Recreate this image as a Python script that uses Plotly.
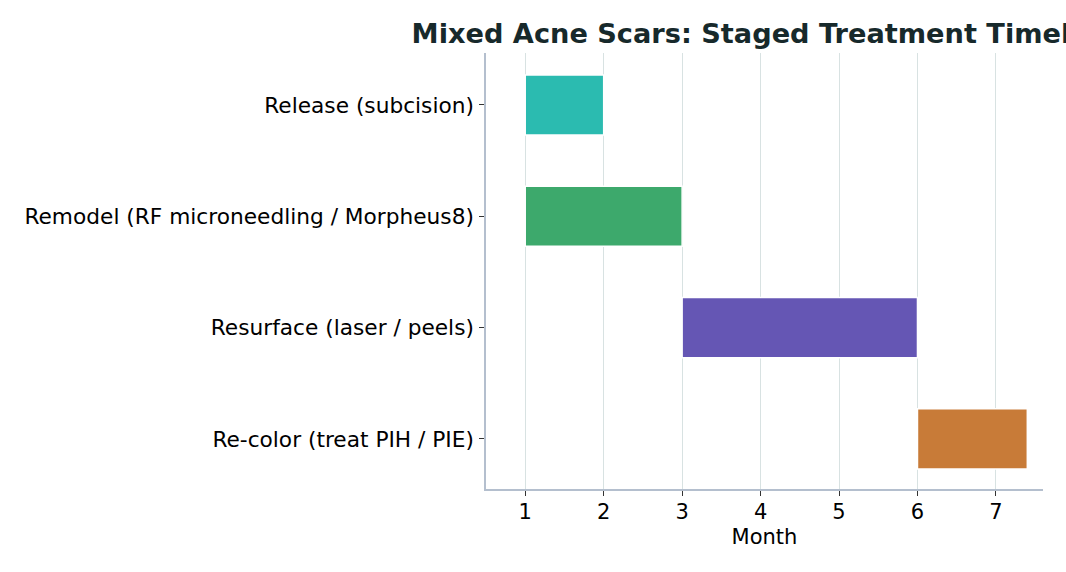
import plotly.graph_objects as go

stages = ["Release (subcision)", "Remodel (RF microneedling / Morpheus8)",
          "Resurface (laser / peels)", "Re-color (treat PIH / PIE)"]
start_month = [1, 1, 3, 6]
duration = [1, 2, 3, 1.4]
colors = ["#2bbbb0", "#3da96c", "#6556b4", "#c87b38"]

fig = go.Figure()
fig.add_trace(go.Bar(
    y=stages, x=duration, base=start_month, orientation="h",
    marker=dict(color=colors, line=dict(color="white", width=1.5)),
    width=0.54, showlegend=False,
))

fig.update_layout(
    width=1066, height=572,
    margin=dict(l=486, r=23, t=53, b=83),
    paper_bgcolor="white", plot_bgcolor="white",
    font=dict(family="DejaVu Sans", size=21, color="black"),
    title=dict(text="<b>Mixed Acne Scars: Staged Treatment Timeline</b>",
               x=0.5, xref="paper", xanchor="center",
               y=1, yref="paper", yanchor="bottom", pad=dict(b=10),
               font=dict(size=27.2, color="#17292b")),
    xaxis=dict(range=[0.5, 7.6], tickvals=[1, 2, 3, 4, 5, 6, 7],
               showgrid=True, gridcolor="#d8e2e2", gridwidth=1,
               showline=True, linecolor="#b4bfce", linewidth=1.5,
               ticks="outside", ticklen=5, tickcolor="#333333",
               ticklabelstandoff=-2,
               zeroline=False,
               title=dict(text="Month", font=dict(size=21), standoff=6),
               tickfont=dict(size=21)),
    yaxis=dict(categoryorder="array", categoryarray=stages,
               range=[3.45, -0.467],
               showgrid=False, showline=True, linecolor="#b4bfce", linewidth=1.5,
               ticks="outside", ticklen=5, tickcolor="#333333",
               ticklabelstandoff=1,
               zeroline=False, tickfont=dict(size=21.7)),
)

fig.write_html("out.html")
